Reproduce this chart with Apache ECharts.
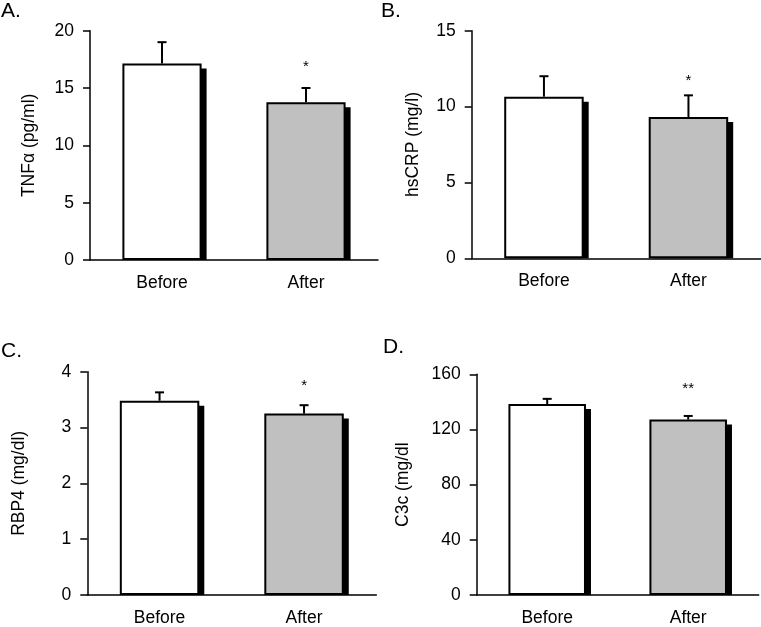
<!DOCTYPE html>
<html>
<head>
<meta charset="utf-8">
<script src="https://cdn.jsdelivr.net/npm/echarts@6/dist/echarts.min.js"></script>
<style>
html, body { margin: 0; padding: 0; background: #fff; }
#chart { width: 761px; height: 627px; }
</style>
</head>
<body>
<div id="chart"></div>
<script>
// data
var groups = ['Before', 'After'];
var panelLetters = ['A.', 'B.', 'C.', 'D.'];
var yNames = ['TNFα (pg/ml)', 'hsCRP (mg/l)', 'RBP4 (mg/dl)', 'C3c (mg/dl'];
var yMax = [20, 15, 4, 160];
var yStep = [5, 5, 1, 40];
var tnfMean = [17.15, 13.75];
var tnfTop = [19.0, 15.0];
var crpMean = [10.65, 9.31];
var crpTop = [12.0, 10.74];
var rbpMean = [3.48, 3.25];
var rbpTop = [3.63, 3.40];
var c3cMean = [138.4, 127.2];
var c3cTop = [142.2, 129.8];
var sigMarks = [['', '*'], ['', '*'], ['', '*'], ['', '**']];

var means = [tnfMean, crpMean, rbpMean, c3cMean];
var tops = [tnfTop, crpTop, rbpTop, c3cTop];

// layout of the four panels (pixels)
var grids = [
	{left: 90, top: 30.7, width: 288, height: 229.3},
	{left: 471.7, top: 30.7, width: 289, height: 227.6},
	{left: 87.3, top: 371.7, width: 289, height: 226.6},
	{left: 476.7, top: 374.3, width: 282, height: 223}
];
var letterPos = [[1, 1], [381, 1], [1, 341], [383, 337]];
var nameGaps = [52, 50, 59, 65];
var starGap = [21, 14, 19, 27];

var FONT = '"Liberation Sans", Arial, sans-serif';
var BAR_RATIO = 0.55;
var SHADOW = 5;

var chart = echarts.init(document.getElementById('chart'));

function shadowItem(params, api){
	var top = api.coord([api.value(0), api.value(1)]);
	var base = api.coord([api.value(0), 0]);
	var w = api.size([1, 0])[0] * BAR_RATIO;
	return {
		type: 'rect',
		shape: {x: top[0] - w / 2 + SHADOW, y: top[1] + SHADOW, width: w, height: base[1] - top[1] - SHADOW},
		style: {fill: '#000'}
	};
}

function errorItem(panel){
	return function(params, api){
		var i = api.value(0);
		var p0 = api.coord([i, api.value(1)]);
		var p1 = api.coord([i, api.value(2)]);
		var cap = 4.5;
		var children = [
			{type: 'line', shape: {x1: p0[0], y1: p0[1], x2: p1[0], y2: p1[1]}, style: {stroke: '#000', lineWidth: 2}},
			{type: 'line', shape: {x1: p1[0] - cap, y1: p1[1], x2: p1[0] + cap, y2: p1[1]}, style: {stroke: '#000', lineWidth: 2}}
		];
		var mark = sigMarks[panel][params.dataIndex];
		if(mark){
			children.push({
				type: 'text',
				style: {text: mark, x: p1[0], y: p1[1] - starGap[panel], align: 'center', verticalAlign: 'middle',
					fontSize: 15, fontFamily: FONT, fill: '#000'}
			});
		}
		return {type: 'group', children: children};
	};
}

var option = {
	backgroundColor: '#fff',
	animation: false,
	title: [],
	grid: [],
	xAxis: [],
	yAxis: [],
	series: []
};

for(var k=0; k<4; k++){
	option.title.push({
		text: panelLetters[k], left: letterPos[k][0], top: letterPos[k][1], padding: 0,
		textStyle: {fontSize: 21, fontWeight: 'normal', fontFamily: FONT, color: '#000'}
	});
	option.grid.push(grids[k]);
	option.xAxis.push({
		type: 'category', gridIndex: k, data: groups,
		axisLine: {lineStyle: {color: '#000', width: 1.5}},
		axisTick: {show: false},
		axisLabel: {fontSize: 17.5, color: '#000', fontFamily: FONT, margin: 14}
	});
	option.yAxis.push({
		type: 'value', gridIndex: k, min: 0, max: yMax[k], interval: yStep[k],
		name: yNames[k], nameLocation: 'middle', nameGap: nameGaps[k],
		nameTextStyle: {fontSize: 17.5, color: '#000', fontFamily: FONT},
		axisLine: {show: true, lineStyle: {color: '#000', width: 1.5}},
		axisTick: {show: true, length: 7, lineStyle: {color: '#000', width: 1.5}},
		axisLabel: {fontSize: 17.5, color: '#000', fontFamily: FONT, margin: 16},
		splitLine: {show: false}
	});

	var shadowData = [], errData = [];
	for(var i=0; i<groups.length; i++){
		shadowData.push([i, means[k][i]]);
		errData.push([i, means[k][i], tops[k][i]]);
	}
	option.series.push({
		type: 'custom', xAxisIndex: k, yAxisIndex: k, z: 1,
		renderItem: shadowItem, data: shadowData, encode: {x: 0, y: 1}, silent: true
	});
	option.series.push({
		type: 'bar', xAxisIndex: k, yAxisIndex: k, z: 2, barWidth: '55%',
		data: means[k].map(function(v, i){
			return {value: v, itemStyle: {color: i == 0 ? '#ffffff' : '#c0c0c0'}};
		}),
		itemStyle: {borderColor: '#000', borderWidth: 2}
	});
	option.series.push({
		type: 'custom', xAxisIndex: k, yAxisIndex: k, z: 3,
		renderItem: errorItem(k), data: errData, encode: {x: 0, y: [1, 2]}, silent: true
	});
}

chart.setOption(option);
</script>
</body>
</html>
